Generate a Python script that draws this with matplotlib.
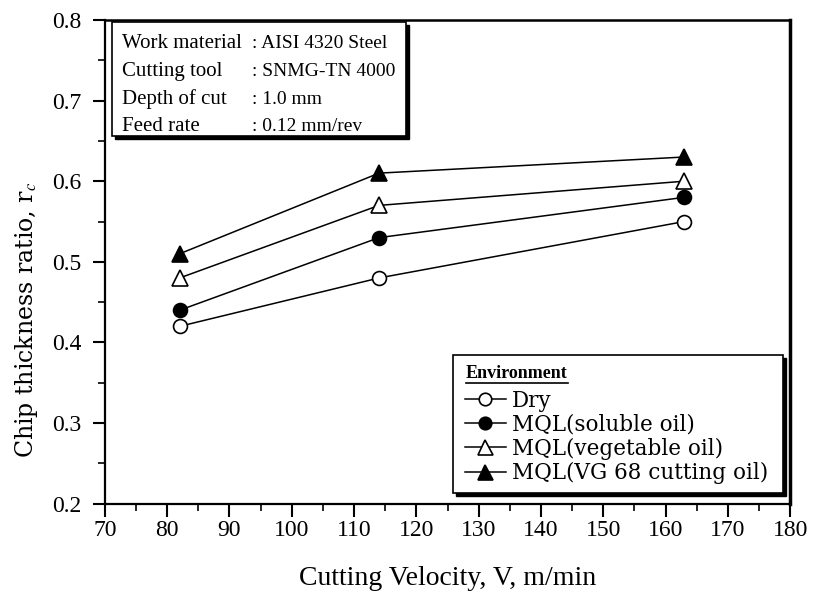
import matplotlib
matplotlib.use("Agg")
import matplotlib.pyplot as plt
from matplotlib.ticker import MultipleLocator, FuncFormatter
from matplotlib.patches import Rectangle
from matplotlib.lines import Line2D

plt.rcParams['font.family'] = ['Liberation Serif', 'DejaVu Serif']
plt.rcParams['mathtext.fontset'] = 'stix'

# Cutting velocity (m/min)
velocity = [82, 114, 163]

# Chip thickness ratio for each cutting environment
dry = [0.42, 0.48, 0.55]
mql_soluble = [0.44, 0.53, 0.58]
mql_vegetable = [0.48, 0.57, 0.60]
mql_vg68 = [0.51, 0.61, 0.63]

labels = ["Dry", "MQL(soluble oil)", "MQL(vegetable oil)", "MQL(VG 68 cutting oil)"]

info_keys = ["Work material", "Cutting tool", "Depth of cut", "Feed rate"]
info_vals = [": AISI 4320 Steel", ": SNMG-TN 4000", ": 1.0 mm", ": 0.12 mm/rev"]

W, H = 813, 604
fig = plt.figure(figsize=(W / 100, H / 100), dpi=100)
ax = fig.add_axes([0.129, 0.166, 0.843, 0.801])


def fx(px):
    return px / W


def fy(py):
    return 1 - py / H


styles = [
    dict(marker='o', mfc='white', ms=10),
    dict(marker='o', mfc='black', ms=10),
    dict(marker='^', mfc='white', ms=12),
    dict(marker='^', mfc='black', ms=12),
]
series = [dry, mql_soluble, mql_vegetable, mql_vg68]
handles = []
for ys, st, lab in zip(series, styles, labels):
    h, = ax.plot(velocity, ys, color='black', lw=1.1, marker=st['marker'],
                 mfc=st['mfc'], mec='black', mew=1.2, ms=st['ms'], label=lab,
                 zorder=3)
    handles.append(h)

ax.set_xlim(70, 180)
ax.set_ylim(0.2, 0.8)
ax.xaxis.set_major_locator(MultipleLocator(10))
ax.xaxis.set_minor_locator(MultipleLocator(5))
ax.yaxis.set_major_locator(MultipleLocator(0.1))
ax.yaxis.set_minor_locator(MultipleLocator(0.05))
ax.tick_params(which='major', direction='out', length=9, width=1.5,
               labelsize=17)
ax.tick_params(axis='x', which='major', pad=3)
ax.tick_params(axis='y', which='major', pad=8)
ax.tick_params(which='minor', direction='out', length=5, width=1.2)
ax.yaxis.set_major_formatter(FuncFormatter(lambda v, p: f"{v:.1f}"))

for side in ['left', 'bottom']:
    ax.spines[side].set_linewidth(1.6)
ax.spines['top'].set_linewidth(1.8)
ax.spines['right'].set_linewidth(2.5)

ax.set_xlabel("Cutting Velocity, V, m/min", fontsize=20, labelpad=18)
ax.set_ylabel(r"Chip thickness ratio, r$_c$", fontsize=17,
              family='DejaVu Serif')
ax.yaxis.set_label_coords(-0.094, 0.38)


def framed_box(x0, y0, x1, y1):
    # white box with a dark drop shadow on the right and bottom
    shadow = Rectangle((fx(x0 + 3), fy(y1 + 3)), fx(x1 - x0), fy(y0) - fy(y1),
                       transform=fig.transFigure, facecolor='black',
                       edgecolor='black', zorder=5, clip_on=False)
    box = Rectangle((fx(x0), fy(y1)), fx(x1 - x0), fy(y0) - fy(y1),
                    transform=fig.transFigure, facecolor='white',
                    edgecolor='black', lw=1.2, zorder=6, clip_on=False)
    ax.add_patch(shadow)
    ax.add_patch(box)


# Process conditions box
framed_box(112, 22, 406, 136)
for i, (k, v) in enumerate(zip(info_keys, info_vals)):
    yy = fy(44 + i * 27.5)
    ax.text(fx(122), yy, k, fontsize=15, va='center', ha='left', zorder=7,
            transform=fig.transFigure)
    ax.text(fx(252), yy, v, fontsize=14, va='center', ha='left', zorder=7,
            transform=fig.transFigure)

# Environment legend
framed_box(453, 355, 783, 493)
leg = ax.legend(handles=handles, labels=labels, loc='upper left',
                bbox_to_anchor=(fx(456), fy(381)),
                bbox_transform=fig.transFigure, frameon=False,
                prop={'family': 'DejaVu Serif', 'size': 15.5},
                handlelength=1.9, handletextpad=0.3, labelspacing=0.1,
                borderaxespad=0, markerscale=0.9)
leg.set_zorder(8)
t = ax.text(fx(466), fy(373), "Environment", fontsize=13, fontweight='bold',
            va='center', ha='left', zorder=8, transform=fig.transFigure)
fig.canvas.draw()
bb = t.get_window_extent()
ax.add_line(Line2D([bb.x0 / W, bb.x1 / W], [fy(383), fy(383)],
                   transform=fig.transFigure, color='black', lw=1.2,
                   zorder=8, clip_on=False))

fig.savefig("out.png", dpi=100)
